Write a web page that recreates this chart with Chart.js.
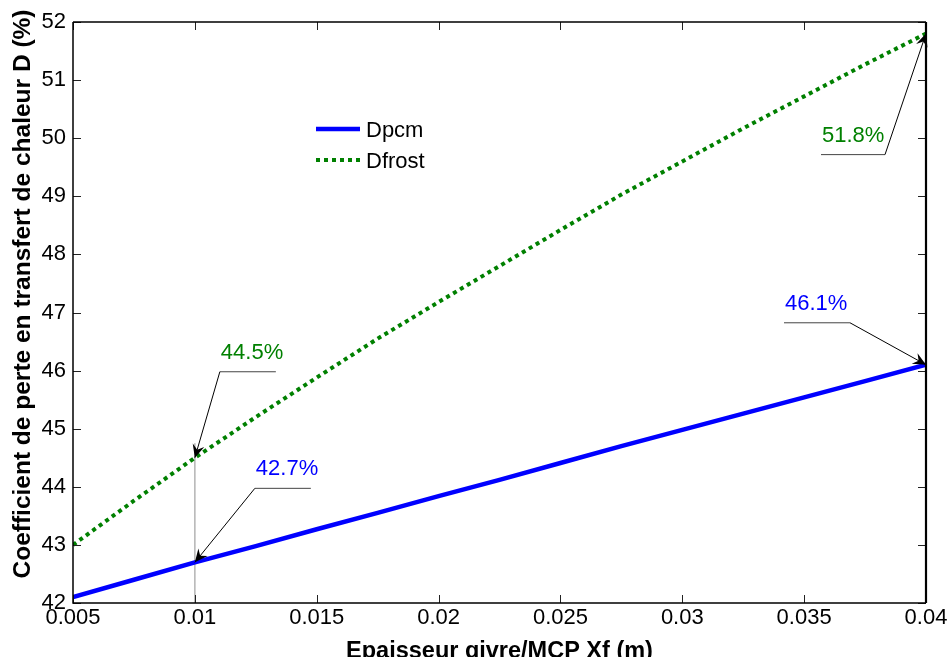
<!DOCTYPE html>
<html>
<head>
<meta charset="utf-8">
<script src="https://cdn.jsdelivr.net/npm/chart.js@4.4.1/dist/chart.umd.min.js"></script>
<style>
  html, body { margin: 0; padding: 0; background: #fff; }
  canvas { display: block; }
</style>
</head>
<body>
<canvas id="dchart" width="951" height="657"></canvas>
<script>
// Epaisseur (m) et coefficients de perte D (%)
var xf = [0.005, 0.0075, 0.01, 0.0125, 0.015, 0.0175, 0.02, 0.0225, 0.025, 0.0275, 0.03, 0.0325, 0.035, 0.0375, 0.04];
var dpcm = [42.1, 42.4, 42.7, 42.98, 43.27, 43.55, 43.84, 44.12, 44.41, 44.7, 44.98, 45.26, 45.54, 45.82, 46.1];
var dfrost = [43.0, 43.76, 44.5, 45.2, 45.88, 46.55, 47.18, 47.8, 48.42, 49.03, 49.6, 50.17, 50.72, 51.27, 51.8];

// repere vertical a Xf = 0.01
var markX = [0.01, 0.01];
var markY = [44.75, 42];

var seriesNames = ['Dpcm', 'Dfrost'];
var xTitle = 'Epaisseur givre/MCP Xf (m)';
var yTitle = 'Coefficient de perte en transfert de chaleur D (%)';

// etiquettes pointees : serie, abscisse, texte
var tipSeries = [1, 0, 0, 1];
var tipX = [0.01, 0.01, 0.04, 0.04];
var tipText = ['44.5%', '42.7%', '46.1%', '51.8%'];

var FONT = '"Liberation Sans", Arial, sans-serif';
var BLUE = '#0000ff';
var GREEN = '#008000';

function pts(xs, ys) {
    return xs.map(function (x, i) { return { x: x, y: ys[i] }; });
}

// placement des bulles (decalage du coude depuis la pointe, sens du trait)
var tipLayout = [
    { dx: 25, dy: -86, dir: 1, len: 56 },
    { dx: 60, dy: -74, dir: 1, len: 56 },
    { dx: -76, dy: -42, dir: -1, len: 66 },
    { dx: -41, dy: 121, dir: -1, len: 64 }
];

function arrowHead(c, x0, y0, x1, y1) {
    var a = Math.atan2(y1 - y0, x1 - x0);
    var L = 13, W = 6;
    c.save();
    c.translate(x1, y1);
    c.rotate(a);
    c.beginPath();
    c.moveTo(0, 0);
    c.lineTo(-L, -W);
    c.lineTo(-L * 0.65, 0);
    c.lineTo(-L, W);
    c.closePath();
    c.fillStyle = '#000';
    c.fill();
    c.restore();
}

var frame = {
    id: 'frame',
    afterDraw: function (chart) {
        var c = chart.ctx, a = chart.chartArea;
        var xs = chart.scales.x, ys = chart.scales.y;
        c.save();

        // graduations interieures sur les quatre cotes
        c.strokeStyle = '#222';
        c.lineWidth = 1;
        c.beginPath();
        xs.ticks.forEach(function (t) {
            var px = Math.round(xs.getPixelForValue(t.value)) + 0.5;
            c.moveTo(px, a.bottom); c.lineTo(px, a.bottom - 8);
            c.moveTo(px, a.top); c.lineTo(px, a.top + 8);
        });
        ys.ticks.forEach(function (t) {
            var py = Math.round(ys.getPixelForValue(t.value)) + 0.5;
            c.moveTo(a.left, py); c.lineTo(a.left + 8, py);
            c.moveTo(a.right, py); c.lineTo(a.right - 8, py);
        });
        c.stroke();

        // cadre
        c.strokeStyle = '#000';
        c.lineWidth = 1.5;
        c.beginPath();
        c.moveTo(a.left, a.top); c.lineTo(a.right, a.top);
        c.moveTo(a.left, a.top); c.lineTo(a.left, a.bottom);
        c.lineTo(a.right, a.bottom);
        c.stroke();
        c.lineWidth = 2.2;
        c.beginPath();
        c.moveTo(a.right, a.top); c.lineTo(a.right, a.bottom);
        c.stroke();

        // titres des axes
        c.fillStyle = '#000';
        c.font = 'bold 23.5px ' + FONT;
        c.textAlign = 'center';
        c.textBaseline = 'alphabetic';
        c.fillText(xTitle, (a.left + a.right) / 2, 658);
        c.font = 'bold 24.5px ' + FONT;
        c.translate(30, 294);
        c.rotate(-Math.PI / 2);
        c.fillText(yTitle, 0, 0);
        c.restore();

        // legende
        c.save();
        var lx = 316, ly = [129, 160];
        chart.data.datasets.slice(0, 2).forEach(function (ds, i) {
            c.strokeStyle = ds.borderColor;
            c.lineWidth = ds.borderWidth;
            c.setLineDash(ds.borderDash || []);
            c.beginPath();
            c.moveTo(lx, ly[i]); c.lineTo(lx + 44, ly[i]);
            c.stroke();
            c.setLineDash([]);
            c.fillStyle = '#000';
            c.font = '22px ' + FONT;
            c.textAlign = 'left';
            c.textBaseline = 'middle';
            c.fillText(ds.label, 366, ly[i] + 2);
        });
        c.restore();

        // etiquettes avec fleches
        c.save();
        tipText.forEach(function (txt, i) {
            var ds = chart.data.datasets[tipSeries[i]];
            var k = xf.indexOf(tipX[i]);
            var tx = xs.getPixelForValue(tipX[i]);
            var ty = ys.getPixelForValue(ds.data[k].y);
            var L = tipLayout[i];
            var ex = tx + L.dx, ey = ty + L.dy;
            var x2 = ex + L.dir * L.len;
            c.strokeStyle = '#444';
            c.lineWidth = 1;
            c.beginPath();
            c.moveTo(ex, ey); c.lineTo(x2, ey);
            c.stroke();
            c.strokeStyle = '#000';
            c.beginPath();
            c.moveTo(ex, ey); c.lineTo(tx, ty);
            c.stroke();
            arrowHead(c, ex, ey, tx, ty);
            c.fillStyle = ds.borderColor;
            c.font = '22px ' + FONT;
            c.textAlign = 'left';
            c.textBaseline = 'alphabetic';
            c.fillText(txt, Math.min(ex, x2) + 1, ey - 13);
        });
        c.restore();
    }
};

new Chart(document.getElementById('dchart').getContext('2d'), {
    type: 'line',
    data: {
        datasets: [{
            label: seriesNames[0],
            data: pts(xf, dpcm),
            borderColor: BLUE,
            borderWidth: 4.5,
            pointRadius: 0,
            tension: 0
        }, {
            label: seriesNames[1],
            data: pts(xf, dfrost),
            borderColor: GREEN,
            borderWidth: 4,
            borderDash: [4, 4],
            borderCapStyle: 'butt',
            pointRadius: 0,
            tension: 0
        }, {
            label: 'repere',
            data: pts(markX, markY),
            borderColor: '#b4b4b4',
            borderWidth: 1.5,
            pointRadius: 0
        }]
    },
    options: {
        responsive: false,
        animation: false,
        layout: { padding: { left: 0, right: 25, top: 22, bottom: 0 } },
        plugins: {
            legend: { display: false },
            tooltip: { enabled: false }
        },
        scales: {
            x: {
                type: 'linear',
                min: 0.005,
                max: 0.04,
                afterFit: function (s) { s.height = 54; },
                grid: { display: false, drawTicks: false },
                border: { display: false },
                ticks: {
                    stepSize: 0.005,
                    padding: 2,
                    maxRotation: 0,
                    color: '#000',
                    font: { family: FONT, size: 22 },
                    callback: function (v) { return String(Number(v.toFixed(3))); }
                }
            },
            y: {
                min: 42,
                max: 52,
                afterFit: function (s) { s.width = 73; },
                grid: { display: false, drawTicks: false },
                border: { display: false },
                ticks: {
                    stepSize: 1,
                    padding: 7,
                    color: '#000',
                    font: { family: FONT, size: 22 }
                }
            }
        }
    },
    plugins: [frame]
});
</script>
</body>
</html>
